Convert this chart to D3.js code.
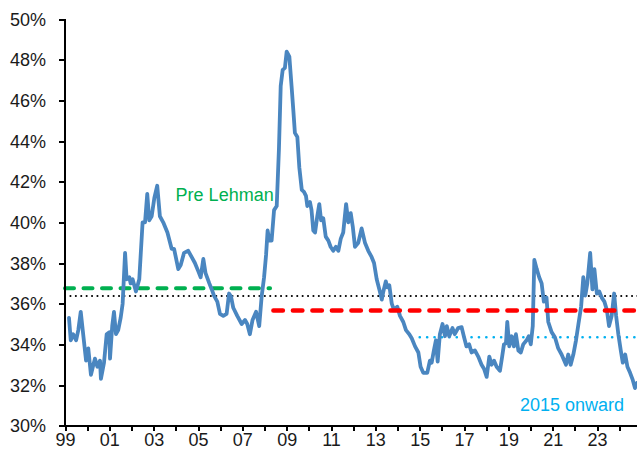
<!DOCTYPE html>
<html>
<head>
<meta charset="utf-8">
<script src="https://cdn.jsdelivr.net/npm/d3@7"></script>
<style>
    html, body { margin: 0; padding: 0; background: #ffffff; }
    svg { display: block; font-family: "Liberation Sans", Arial, sans-serif; }
    .axis path, .axis line { stroke: #000000; stroke-width: 2px; shape-rendering: crispEdges; }
    .axis text { font-size: 18px; fill: #1a1a1a; }
</style>
</head>
<body>
<svg id="chart"></svg>
<script>
// Series: decimal year and share (%)
const years = [
    1999.18, 1999.26, 1999.37, 1999.50, 1999.60, 1999.71, 1999.83, 1999.95,
    2000.05, 2000.17, 2000.28, 2000.35, 2000.46, 2000.58, 2000.62, 2000.76, 2000.88,
    2001.00, 2001.03, 2001.13, 2001.21, 2001.30, 2001.40, 2001.51, 2001.60, 2001.71, 2001.78, 2001.90, 2001.96,
    2002.05, 2002.20, 2002.35, 2002.50, 2002.61, 2002.71, 2002.80, 2002.91,
    2003.03, 2003.16, 2003.28, 2003.43, 2003.62, 2003.81, 2003.92,
    2004.11, 2004.22, 2004.37, 2004.56, 2004.71, 2004.86,
    2005.01, 2005.12, 2005.24, 2005.34, 2005.51, 2005.62, 2005.72, 2005.87, 2005.99,
    2006.14, 2006.29, 2006.40, 2006.49, 2006.59, 2006.77, 2006.97,
    2007.12, 2007.22, 2007.34, 2007.46, 2007.62, 2007.76, 2007.87, 2007.98,
    2008.07, 2008.14, 2008.22, 2008.32, 2008.43, 2008.55, 2008.65, 2008.73, 2008.82, 2008.92,
    2009.00, 2009.12, 2009.22, 2009.30, 2009.37, 2009.48, 2009.57, 2009.68, 2009.78, 2009.87, 2009.93,
    2010.05, 2010.12, 2010.20, 2010.28, 2010.38, 2010.47, 2010.55, 2010.65, 2010.76, 2010.88, 2010.98,
    2011.10, 2011.22, 2011.33, 2011.44, 2011.55, 2011.68, 2011.78, 2011.89, 2011.98,
    2012.08, 2012.23, 2012.38, 2012.53, 2012.68, 2012.83, 2012.94,
    2013.06, 2013.18, 2013.29, 2013.36, 2013.47, 2013.54, 2013.63, 2013.74, 2013.84, 2013.99,
    2014.11, 2014.26, 2014.38, 2014.53, 2014.64, 2014.79, 2014.94,
    2015.04, 2015.16, 2015.34, 2015.46, 2015.54, 2015.64, 2015.73, 2015.81, 2015.91,
    2016.03, 2016.14, 2016.22, 2016.33, 2016.48, 2016.58, 2016.73, 2016.89, 2016.99,
    2017.11, 2017.23, 2017.34, 2017.49, 2017.64, 2017.79, 2017.90,
    2018.02, 2018.14, 2018.24, 2018.35, 2018.47, 2018.62, 2018.72, 2018.80, 2018.89, 2018.95,
    2019.04, 2019.15, 2019.25, 2019.34, 2019.45, 2019.56, 2019.67, 2019.82, 2019.92,
    2020.01, 2020.10, 2020.17, 2020.28, 2020.39, 2020.50, 2020.60, 2020.72, 2020.80, 2020.95,
    2021.10, 2021.25, 2021.40, 2021.60, 2021.70, 2021.81, 2021.93,
    2022.05, 2022.16, 2022.28, 2022.38, 2022.47, 2022.56, 2022.69, 2022.79, 2022.88, 2022.99,
    2023.10, 2023.21, 2023.33, 2023.44, 2023.54, 2023.66, 2023.77, 2023.86, 2023.96,
    2024.07, 2024.16, 2024.27, 2024.37, 2024.49, 2024.61, 2024.71, 2024.80
];
const share = [
    35.3, 34.2, 34.5, 34.2, 34.7, 35.6, 34.4, 33.2,
    33.8, 32.5, 33.0, 33.3, 32.9, 33.2, 32.3, 33.1, 34.5,
    34.6, 33.3, 34.9, 35.6, 34.5, 34.7, 35.3, 36.0, 38.5, 37.2, 37.3, 37.0,
    37.2, 36.6, 37.2, 40.0, 40.0, 41.4, 40.1, 40.3,
    41.2, 41.8, 40.3, 40.0, 39.5, 38.7, 38.7,
    37.7, 37.9, 38.5, 38.6, 38.3, 38.0,
    37.6, 37.3, 38.2, 37.5, 37.0, 36.7, 36.4, 36.1, 35.5,
    35.4, 35.5, 36.5, 36.35, 35.8, 35.4, 35.0,
    35.2, 35.0, 34.5, 35.2, 35.6, 34.9, 36.35, 37.3,
    38.4, 39.6, 39.1, 39.1, 40.6, 40.8, 43.6, 46.7, 47.5, 47.6,
    48.4, 48.15, 46.7, 45.5, 44.4, 44.2, 42.7, 41.6, 41.5, 41.3, 40.8,
    41.0, 40.6, 39.6, 39.5, 40.3, 40.9, 40.1, 40.2, 39.3, 39.1, 38.8,
    38.6, 38.8, 38.6, 39.2, 39.5, 40.9, 40.0, 40.45, 39.8,
    38.8, 39.0, 39.7, 39.0, 38.6, 38.3, 38.0,
    37.2, 36.7, 36.2, 36.6, 37.1, 36.8, 36.9, 36.0, 35.7, 35.85,
    35.4, 35.1, 34.7, 34.5, 34.3, 33.9, 33.6,
    32.9, 32.6, 32.6, 33.2, 33.1, 33.7, 34.2, 33.15, 34.5,
    35.0, 34.4, 34.9, 34.4, 34.8, 34.5, 34.8, 34.85, 34.4,
    33.9, 34.0, 33.6, 33.7, 33.4, 33.0, 32.8,
    32.4, 33.4, 33.0, 33.2, 32.9, 32.7, 33.4, 34.0, 34.05, 35.1,
    33.9, 34.4, 33.9, 34.5, 33.7, 33.6, 34.0, 34.2, 34.4,
    34.0, 34.9, 38.15, 37.7, 37.3, 37.0, 36.1, 36.3, 35.1, 34.6,
    34.35, 33.8, 33.5, 33.0, 33.5, 33.0, 33.5,
    34.2, 35.0, 35.85, 37.3, 36.4, 37.0, 38.5, 36.7, 37.7, 36.5,
    36.6, 36.3, 36.1, 35.7, 34.9, 35.4, 36.5, 35.4, 34.5,
    33.7, 33.1, 33.5, 32.9, 32.6, 32.25, 31.85, 32.1
];

// Reference levels: [label, start year, end year, level %]
const preLehman = { start: 1999, end: 2008.25, level: 36.76 };
const fullAverage = { start: 1999, end: 2025, level: 36.38 };
const postLehman = { start: 2008.4, end: 2025, level: 35.66 };
const since2015 = { start: 2015, end: 2025, level: 34.35 };

// Axis ticks
const yTicks = [30, 32, 34, 36, 38, 40, 42, 44, 46, 48, 50];
const xMinorTicks = d3.range(1999, 2025);
const xLabelTicks = d3.range(1999, 2025, 2);

(function() {
    'use strict';

    const width = 637;
    const height = 454;
    const margin = { top: 19, left: 65 };
    const plotBottom = 425.7;
    const plotRight = 641.4;

    const svg = d3.select('#chart')
        .attr('width', width)
        .attr('height', height);

    const x = d3.scaleLinear()
        .domain([1999, 2025])
        .range([margin.left, plotRight]);

    const y = d3.scaleLinear()
        .domain([30, 50])
        .range([plotBottom, margin.top]);

    // Horizontal reference lines
    function refLine(ref, color, widthPx, dash, cap) {
        svg.append('line')
            .attr('x1', x(ref.start))
            .attr('x2', x(ref.end))
            .attr('y1', y(ref.level))
            .attr('y2', y(ref.level))
            .attr('stroke', color)
            .attr('stroke-width', widthPx)
            .attr('stroke-dasharray', dash)
            .attr('stroke-linecap', cap);
    }

    refLine(fullAverage, '#000000', 2, '0.1 5.3', 'round');
    refLine(preLehman, '#00B050', 4, '9 9.5', 'round');
    refLine(since2015, '#00B0F0', 2.6, '0.1 7.3', 'round');

    // Main series
    const series = years.map((yr, i) => ({ year: yr, value: share[i] }));

    const line = d3.line()
        .x(d => x(d.year))
        .y(d => y(d.value));

    svg.append('path')
        .datum(series)
        .attr('fill', 'none')
        .attr('stroke', '#4A86C0')
        .attr('stroke-width', 3.8)
        .attr('stroke-linejoin', 'round')
        .attr('stroke-linecap', 'round')
        .attr('d', line);

    refLine(postLehman, '#FF0000', 4.5, '9.5 10', 'round');

    // Y axis
    const yAxis = svg.append('g')
        .attr('class', 'axis')
        .attr('transform', `translate(${margin.left}, 0)`)
        .call(d3.axisLeft(y)
            .tickValues(yTicks)
            .tickSize(6)
            .tickPadding(13)
            .tickFormat(d => d + '%'));
    yAxis.select('.domain').attr('d', `M0,${margin.top}V${plotBottom}`);
    yAxis.selectAll('text').attr('dy', '0.34em');

    // X axis: minor ticks every year, labels every other year
    const xAxis = svg.append('g')
        .attr('class', 'axis')
        .attr('transform', `translate(0, ${plotBottom})`)
        .call(d3.axisBottom(x)
            .tickValues(xMinorTicks)
            .tickSize(5)
            .tickPadding(2.5)
            .tickFormat(d => xLabelTicks.includes(d) ? String(d).slice(2) : ''));
    xAxis.select('.domain').attr('d', `M${margin.left},0H${width}`);

    // Annotations
    svg.append('text')
        .attr('x', x(2003.99))
        .attr('y', y(41.05))
        .style('font-size', '18px')
        .style('fill', '#00B050')
        .text('Pre Lehman');

    svg.append('text')
        .attr('x', x(2019.52))
        .attr('y', y(30.7))
        .style('font-size', '18px')
        .style('fill', '#00B0F0')
        .text('2015 onward');
})();
</script>
</body>
</html>
